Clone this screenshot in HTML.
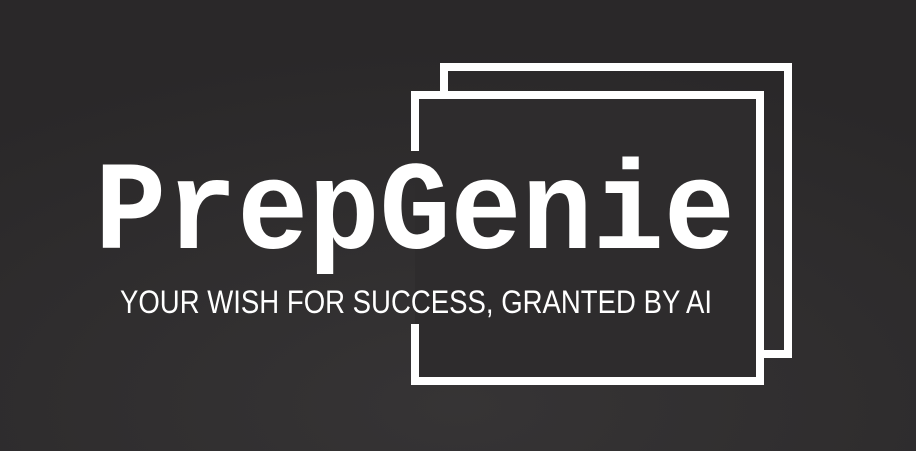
<!DOCTYPE html>
<html><head><meta charset="utf-8"><style>
html,body{margin:0;padding:0;width:916px;height:451px;overflow:hidden;background:#2d2b2c}
</style></head><body>
<svg width="916" height="451" viewBox="0 0 916 451" xmlns="http://www.w3.org/2000/svg">
<defs><radialGradient id="bg" cx="0.5" cy="0.9" r="0.8"><stop offset="0" stop-color="#363435"/><stop offset="1" stop-color="#2a2829"/></radialGradient></defs>
<rect x="0" y="0" width="916" height="451" fill="url(#bg)"/>
<rect x="444" y="67" width="344" height="287" fill="none" stroke="#fff" stroke-width="8"/>
<rect x="415" y="95" width="345" height="286" fill="#2e2c2d"/>
<path d="M415 151 V95 H760 V381 H415 V324" fill="none" stroke="#fff" stroke-width="8"/>
<text x="95" y="248" font-family="Liberation Mono, monospace" font-weight="bold" font-size="126" fill="#fff" textLength="640" lengthAdjust="spacingAndGlyphs">PrepGenie</text>
<text x="120" y="313" font-family="Liberation Sans, sans-serif" font-size="32" fill="#fff" textLength="592" lengthAdjust="spacingAndGlyphs">YOUR WISH FOR SUCCESS, GRANTED BY AI</text>
</svg>
</body></html>
